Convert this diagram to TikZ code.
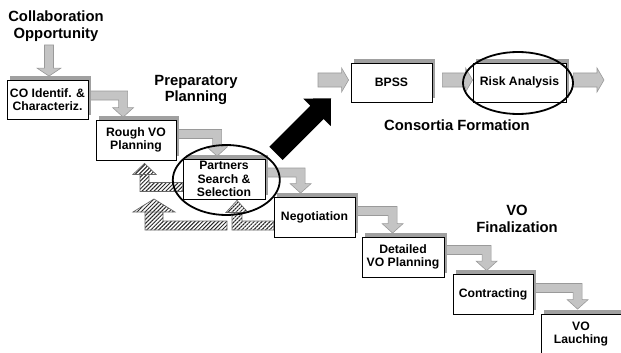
\documentclass[tikz,border=0pt]{standalone}
\usepackage{fontspec}
\setmainfont{Liberation Sans}
\usetikzlibrary{calc,shadows,patterns.meta,backgrounds}

\definecolor{bandgray}{HTML}{C4C4C4}
\definecolor{rimgray}{HTML}{9A9A9A}
\definecolor{shadegray}{HTML}{A0A0A0}

% L shaped block arrow: style, start, tip, half band (horiz.), half band (vert.), half head, head length
\newcommand{\elbowarrow}[7]{%
  \path[#1] let \p1=(#2), \p2=(#3), \n1={sign(\x2-\x1)}, \n2={sign(\y2-\y1)} in
    (\x1,{\y1-(\n2)*#4}) -- ({\x2+(\n1)*#5},{\y1-(\n2)*#4}) -- ({\x2+(\n1)*#5},{\y2-(\n2)*#7})
    -- ({\x2+#6},{\y2-(\n2)*#7}) -- (\x2,\y2) -- ({\x2-#6},{\y2-(\n2)*#7})
    -- ({\x2-(\n1)*#5},{\y2-(\n2)*#7}) -- ({\x2-(\n1)*#5},{\y1+(\n2)*#4}) -- (\x1,{\y1+(\n2)*#4}) -- cycle;}
% straight block arrow: style, start, tip, half band, half head, head length
\newcommand{\blockarrow}[6]{%
  \coordinate (hb) at ($(#3)!#6!(#2)$);
  \path[#1] ($(#2)!#4!90:(#3)$) -- ($(hb)!#4!90:(#3)$) -- ($(hb)!#5!90:(#3)$) -- (#3)
    -- ($(hb)!#5!-90:(#3)$) -- ($(hb)!#4!-90:(#3)$) -- ($(#2)!#4!-90:(#3)$) -- cycle;}

\begin{document}
\begin{tikzpicture}[x=1pt,y=-1pt,
    stage/.style={draw,line width=0.8pt,fill=white,minimum width=81pt,minimum height=39pt,
      inner sep=1pt,align=center,font=\bfseries\fontsize{12.2}{13.5}\selectfont,
      drop shadow={shadow xshift=3pt,shadow yshift=4pt,fill=shadegray,opacity=1}},
    phase/.style={align=center,font=\bfseries\fontsize{14.8}{16.5}\selectfont},
    flow/.style={fill=bandgray,draw=rimgray,line width=0.6pt},
    feedback/.style={pattern={Lines[angle=45,distance=2.8pt,line width=1pt]},pattern color=black!85,
      draw=black!60,line width=0.7pt},
    thrust/.style={fill=black},
    halo/.style={draw,line width=1.8pt}]
    \useasboundingbox (0,0) rectangle (621,353);
    \clip (0,0) rectangle (621,353);

    % phase titles
    \node[phase] (collab) at (56,26) {Collaboration\\Opportunity};
    \node[phase] (prep) at (196,90) {Preparatory\\Planning};
    \node[phase] (consort) at (457,125) {Consortia Formation};
    \node[phase] (final) at (517,219) {VO\\Finalization};

    % stages
    \node[stage] (co) at (47.5,99.5) {CO Identif. \&\\Characteriz.};
    \node[stage,minimum width=80pt,minimum height=40pt] (rough) at (136,140) {Rough VO\\Planning};
    \node[stage,minimum width=82pt,minimum height=40pt] (partners) at (224,179) {Partners\\Search \&\\Selection};
    \node[stage,minimum height=40pt] (negot) at (314.5,217) {Negotiation};
    \node[stage,minimum width=82pt,minimum height=40pt] (detailed) at (403,257) {Detailed\\VO Planning};
    \node[stage,minimum width=80pt,minimum height=40pt] (contract) at (493,294) {Contracting};
    \node[stage,minimum width=80pt,minimum height=40pt] (launch) at (581,334) {VO\\Lauching};
    \node[stage] (bpss) at (391.5,82.5) {BPSS};
    \node[stage,minimum width=93pt] (risk) at (519.5,82.5) {Risk Analysis};

    \coordinate (inflow) at (318,80);
    \coordinate (outflow) at (604,80);
    \coordinate (thrusttail) at (276,153.4);
    \coordinate (thrusttip) at (331,98.3);
    \coordinate (loopstart) at (227,225.5);
    \coordinate (looptip) at (154,199);

    \begin{scope}[on background layer]
    % forward flow
    \blockarrow{flow}{49,45}{$(co.north)+(1.5,-3.5)$}{4.5pt}{12pt}{8pt}
    \elbowarrow{flow}{$(co.east)+(0,-4)$}{$(rough.north west)+(27.5,-2.5)$}{4.5pt}{4.5pt}{10.5pt}{9.5pt}
    \elbowarrow{flow}{$(rough.east)+(0,-6)$}{$(partners.north west)+(34.5,-2.5)$}{4.5pt}{4.5pt}{10.5pt}{9.5pt}
    \elbowarrow{flow}{$(partners.east)+(0,-6.5)$}{$(negot.north west)+(27,-3.5)$}{4.5pt}{4.5pt}{10.5pt}{9.5pt}
    \elbowarrow{flow}{$(negot.east)+(0,-6)$}{$(detailed.north west)+(31,-3.5)$}{4.5pt}{4.5pt}{10.5pt}{9.5pt}
    \elbowarrow{flow}{$(detailed.east)+(0,-7)$}{$(contract.north west)+(34,-3)$}{4.5pt}{4.5pt}{10.5pt}{9.5pt}
    \elbowarrow{flow}{$(contract.east)+(0,-6)$}{$(launch.north west)+(37,-4.5)$}{4.5pt}{4.5pt}{10.5pt}{9.5pt}
    \blockarrow{flow}{inflow}{$(bpss.west)+(-2,-2.5)$}{7pt}{12pt}{7pt}
    \blockarrow{flow}{$(bpss.east)+(10,-2.5)$}{$(risk.west)+(0,-2.5)$}{7pt}{12pt}{7pt}
    \blockarrow{flow}{$(risk.east)+(7,-2.5)$}{outflow}{7pt}{12pt}{7pt}
    % iterations back
    \elbowarrow{feedback}{$(partners.west)+(0,8)$}{$(rough.south)+(8.5,3)$}{4.5pt}{4.5pt}{11.5pt}{11pt}
    \elbowarrow{feedback}{loopstart}{looptip}{4.5pt}{9pt}{21pt}{13pt}
    \elbowarrow{feedback}{$(negot.west)+(0,8.5)$}{$(partners.south)+(13,1)$}{4.5pt}{5pt}{11pt}{12pt}
    \end{scope}

    \blockarrow{thrust}{thrusttail}{thrusttip}{9.4pt}{19.4pt}{19.8pt}

    \draw[halo] ($(partners)+(2.3,1)$) ellipse [x radius=53.5, y radius=35];
    \draw[halo] ($(risk)+(-1.5,0.5)$) ellipse [x radius=55, y radius=31];
\end{tikzpicture}
\end{document}
